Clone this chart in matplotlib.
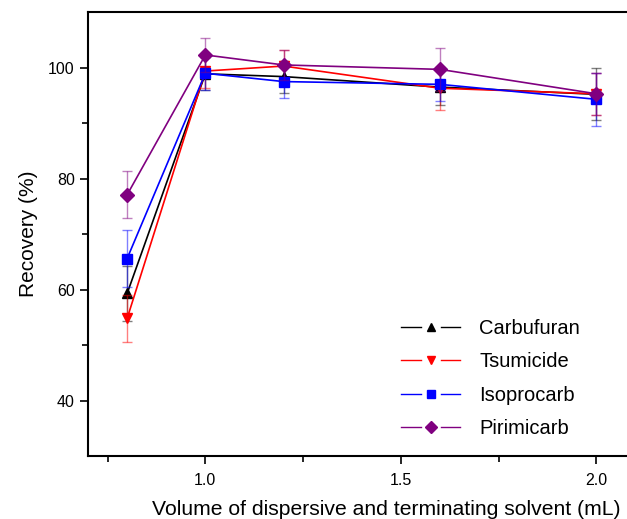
import numpy as np
import matplotlib.pyplot as plt
from matplotlib.lines import Line2D
from matplotlib.legend_handler import HandlerBase

plt.rcParams['font.family'] = ['Liberation Sans', 'DejaVu Sans']

volume = [0.8, 1.0, 1.2, 1.6, 2.0]

carbufuran = [59.3, 98.9, 98.4, 96.5, 95.2]
carbufuran_err = [5.0, 3.0, 2.9, 3.2, 4.7]
tsumicide = [54.8, 99.4, 100.3, 96.3, 95.3]
tsumicide_err = [4.2, 3.0, 2.9, 3.9, 3.8]
isoprocarb = [65.6, 99.0, 97.5, 97.0, 94.3]
isoprocarb_err = [5.2, 3.0, 2.9, 3.0, 4.8]
pirimicarb = [77.1, 102.3, 100.5, 99.7, 95.3]
pirimicarb_err = [4.2, 3.0, 2.7, 3.9, 3.8]

series = [
    ("Carbufuran", carbufuran, carbufuran_err, "black", "^"),
    ("Tsumicide", tsumicide, tsumicide_err, "red", "v"),
    ("Isoprocarb", isoprocarb, isoprocarb_err, "blue", "s"),
    ("Pirimicarb", pirimicarb, pirimicarb_err, "purple", "D"),
]


class GapHandler(HandlerBase):
    # line - marker - line, with a small gap each side of the marker
    def create_artists(self, legend, orig, xdescent, ydescent, width, height,
                       fontsize, trans):
        c, m = orig
        y = height / 2 - ydescent
        x0 = -xdescent
        x1 = x0 + width
        xc = (x0 + x1) / 2
        g = 0.17 * width
        left = Line2D([x0, xc - g], [y, y], color=c, lw=1, transform=trans)
        right = Line2D([xc + g, x1], [y, y], color=c, lw=1, transform=trans)
        mk = Line2D([xc], [y], color=c, marker=m, markersize=6,
                    linestyle="none", transform=trans)
        return [left, right, mk]


fig = plt.figure(figsize=(6.27, 5.19), dpi=100)
# axes runs past the right edge of the figure (cropped like the original)
ax = fig.add_axes([0.1404, 0.1214, 0.9506, 0.855])

handles = []
names = []
for name, y, err, c, m in series:
    ax.errorbar(volume, y, yerr=err, fmt="none", ecolor=c, alpha=0.5,
                elinewidth=1, capsize=3.5, capthick=1)
    ax.plot(volume, y, color=c, marker=m, markersize=7, linewidth=1.2)
    handles.append((c, m))
    names.append(name)

ax.set_xlim(0.7, 2.224)
ax.set_ylim(30, 110)
ax.set_xticks([1.0, 1.5, 2.0])
ax.set_xticks([0.75, 1.25, 1.75], minor=True)
ax.set_yticks([40, 60, 80, 100])
ax.set_yticks([50, 70, 90], minor=True)
ax.tick_params(which="major", direction="out", length=6, width=1.2, labelsize=11.5)
ax.tick_params(axis="x", which="major", pad=6)
ax.tick_params(which="minor", direction="out", length=4, width=1.2)
for s in ax.spines.values():
    s.set_linewidth(1.5)

ax.set_xlabel("Volume of dispersive and terminating solvent (mL)", fontsize=15.2, labelpad=9)
ax.set_ylabel("Recovery (%)", fontsize=15, labelpad=7)

ax.legend(handles, names, handler_map={tuple: GapHandler()},
          loc="upper left", bbox_to_anchor=(0.4955, 0.35), frameon=False,
          fontsize=14.5, handlelength=2.9, labelspacing=0.72,
          handletextpad=0.95)

fig.savefig("out.png", dpi=100)
